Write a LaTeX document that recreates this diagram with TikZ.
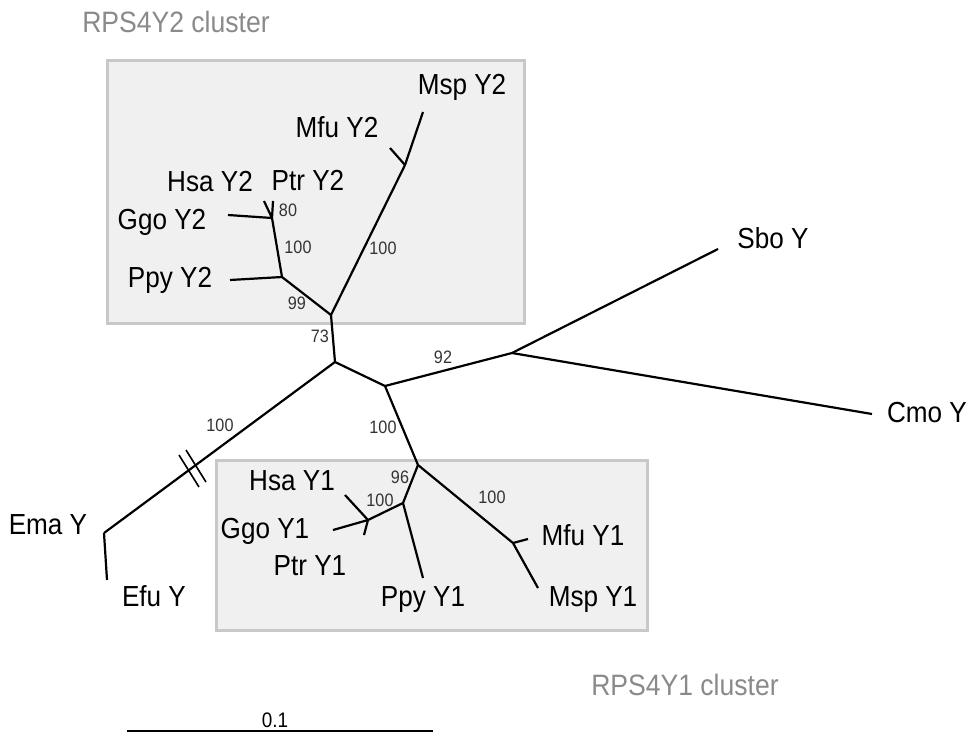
\documentclass[tikz,border=0pt]{standalone}
\usepackage{fontspec}
\setmainfont{Liberation Sans}[FakeStretch=0.9]
\usetikzlibrary{calc}
\definecolor{boxgray}{HTML}{C8C8C8}
\definecolor{boxfill}{HTML}{F0F0F0}
\definecolor{titlegray}{HTML}{8A8A8A}
\definecolor{supportgray}{HTML}{333333}
\begin{document}
\begin{tikzpicture}[x=1pt,y=-1pt,
  branch/.style={line width=2.2pt},
  leaf/.style={font=\fontsize{29}{34}\selectfont, inner sep=0pt},
  support/.style={font=\fontsize{18}{21}\selectfont, text=supportgray, inner sep=0pt},
  clusterbox/.style={draw=boxgray, line width=3pt, fill=boxfill},
  clustertitle/.style={font=\fontsize{29.5}{35}\selectfont, text=titlegray, inner sep=0pt},
  breakmark/.style={line width=1.6pt}]
\useasboundingbox (0,0) rectangle (970,734);

% cluster boxes
\draw[clusterbox] (107,60) rectangle (524,323);
\draw[clusterbox] (216,460) rectangle (647,630);
\node[clustertitle] (t2) at (176,22) {RPS4Y2 cluster};
\node[clustertitle] (t1) at (685,685) {RPS4Y1 cluster};

% internal nodes
\coordinate (A)  at (335,362);
\coordinate (N2) at (331,315);
\coordinate (P2) at (282,277);
\coordinate (H2) at (272,218);
\coordinate (M2) at (405,165);
\coordinate (B)  at (385,386);
\coordinate (G)  at (512,353);
\coordinate (C)  at (418,465);
\coordinate (D)  at (403,503);
\coordinate (E)  at (368,520);
\coordinate (F)  at (513,543);
\coordinate (Em) at (104,533);

% branch tips
\coordinate (tMsp2) at (423,112);
\coordinate (tMfu2) at (390,148);
\coordinate (tHsa2) at (264,201);
\coordinate (tPtr2) at (273,201);
\coordinate (tGgo2) at (228,215);
\coordinate (tPpy2) at (230,280);
\coordinate (tSbo)  at (718,249);
\coordinate (tCmo)  at (872,414);
\coordinate (tEfu)  at (107,580);
\coordinate (tHsa1) at (345,495);
\coordinate (tGgo1) at (333,530);
\coordinate (tPtr1) at (364,535);
\coordinate (tPpy1) at (423,578);
\coordinate (tMfu1) at (528,539);
\coordinate (tMsp1) at (538,588);

% branches
\draw[branch] (A) -- (N2);
\draw[branch] (N2) -- (P2);
\draw[branch] (P2) -- (tPpy2);
\draw[branch] (P2) -- (H2);
\draw[branch] (H2) -- (tGgo2);
\draw[branch] (H2) -- (tHsa2);
\draw[branch] (H2) -- (tPtr2);
\draw[branch] (N2) -- (M2);
\draw[branch] (M2) -- (tMsp2);
\draw[branch] (M2) -- (tMfu2);
\draw[branch] (A) -- (Em);
\draw[branch] (Em) -- (tEfu);
\draw[branch] (A) -- (B);
\draw[branch] (B) -- (G);
\draw[branch] (G) -- (tSbo);
\draw[branch] (G) -- (tCmo);
\draw[branch] (B) -- (C);
\draw[branch] (C) -- (D);
\draw[branch] (D) -- (tPpy1);
\draw[branch] (D) -- (E);
\draw[branch] (E) -- (tGgo1);
\draw[branch] (E) -- (tHsa1);
\draw[branch] (E) -- (tPtr1);
\draw[branch] (C) -- (F);
\draw[branch] (F) -- (tMfu1);
\draw[branch] (F) -- (tMsp1);

% break marks on the long outgroup branch
\coordinate (bk1) at (189,471);
\coordinate (bk2) at (196,466);
\draw[breakmark] ($(bk1)+(-10,-16)$) -- ($(bk1)+(10,16)$);
\draw[breakmark] ($(bk2)+(-10,-16)$) -- ($(bk2)+(10,16)$);

% leaf labels
\node[leaf] (Msp2) at (462,87)  {Msp Y2};
\node[leaf] (Mfu2) at (337,127) {Mfu Y2};
\node[leaf] (Hsa2) at (210,182) {Hsa Y2};
\node[leaf] (Ptr2) at (308,180) {Ptr Y2};
\node[leaf] (Ggo2) at (162,222) {Ggo Y2};
\node[leaf] (Ppy2) at (170,280) {Ppy Y2};
\node[leaf] (Sbo)  at (773,238) {Sbo Y};
\node[leaf] (Cmo)  at (927,413) {Cmo Y};
\node[leaf] (Ema)  at (48,525)  {Ema Y};
\node[leaf] (Efu)  at (154,596) {Efu Y};
\node[leaf] (Hsa1) at (292,481) {Hsa Y1};
\node[leaf] (Ggo1) at (265,531) {Ggo Y1};
\node[leaf] (Ptr1) at (310,566) {Ptr Y1};
\node[leaf] (Ppy1) at (423,600) {Ppy Y1};
\node[leaf] (Mfu1) at (583,535) {Mfu Y1};
\node[leaf] (Msp1) at (593,600) {Msp Y1};

% bootstrap support values
\node[support] (s80)  at (288,210) {80};
\node[support] (s100a) at (298,247) {100};
\node[support] (s100b) at (383,248) {100};
\node[support] (s99)  at (297,303) {99};
\node[support] (s73)  at (320,336) {73};
\node[support] (s92)  at (443,357) {92};
\node[support] (s100c) at (220,425) {100};
\node[support] (s100d) at (383,427) {100};
\node[support] (s96)  at (400,477) {96};
\node[support] (s100e) at (380,500) {100};
\node[support] (s100f) at (492,497) {100};

% scale bar
\coordinate (sb0) at (127,731);
\coordinate (sb1) at (433,731);
\draw[branch] (sb0) -- (sb1);
\node[font=\fontsize{21}{25}\selectfont, inner sep=0pt] (sblabel) at (275,720) {0.1};
\end{tikzpicture}
\end{document}
